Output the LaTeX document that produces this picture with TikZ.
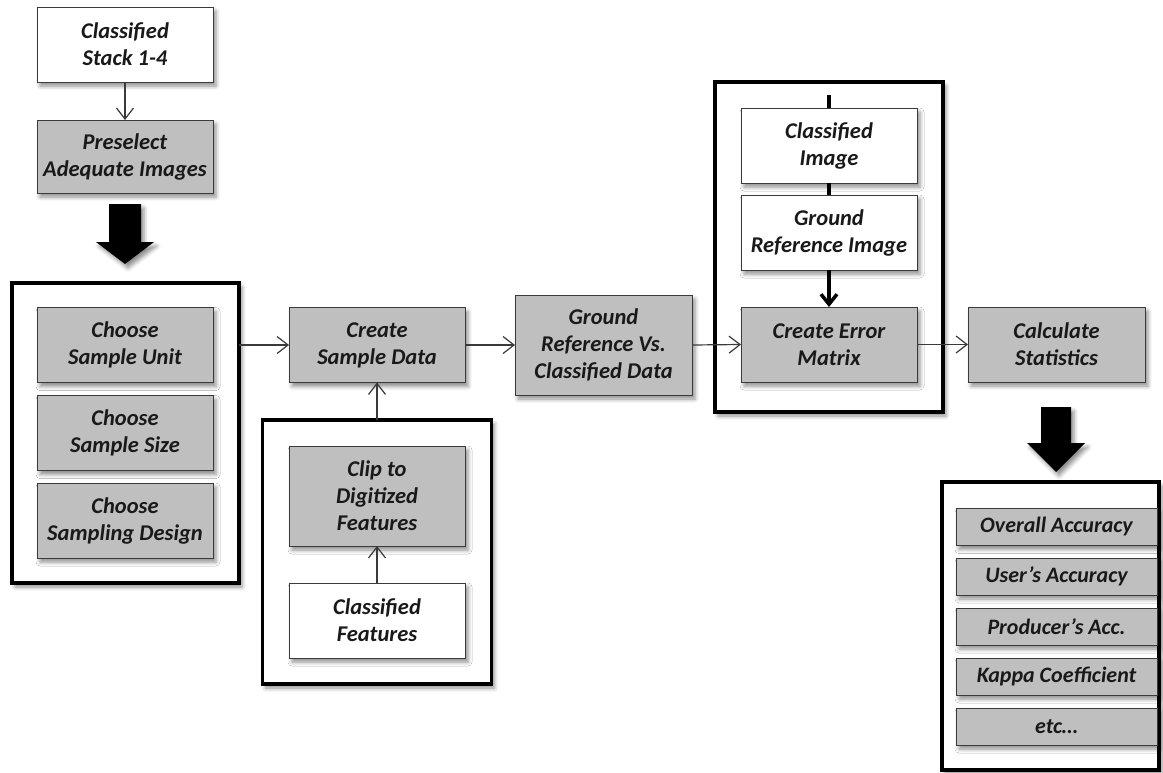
\documentclass[tikz,border=0pt]{standalone}
\usepackage{fontspec}
\setmainfont{Carlito}
\usetikzlibrary{arrows.meta,shadows.blur}
\definecolor{boxgrey}{HTML}{BFBFBF}
\definecolor{edgegrey}{HTML}{3A3A3A}
\tikzset{
  shade/.style={blur shadow={shadow xshift=3pt,shadow yshift=-4pt,shadow blur radius=4pt,shadow opacity=45}},
  stepbox/.style={draw=edgegrey,line width=0.9pt,fill=boxgrey,minimum width=176pt,minimum height=75pt,
    inner sep=0pt,outer sep=0pt,align=center,text=black!90,
    font=\bfseries\itshape\fontsize{22.5}{27}\selectfont,shade},
  whitebox/.style={stepbox,fill=white},
  statbox/.style={stepbox,minimum width=201pt,minimum height=37pt,font=\bfseries\itshape\fontsize{22}{26}\selectfont},
  groupbox/.style={draw=black,line width=3.6pt,fill=white,inner sep=0pt,outer sep=0pt,shade},
  thin/.style={draw=edgegrey,line width=1.2pt,-{Straight Barb[length=11pt,width=17pt]}},
  heavy/.style={draw=black,line width=3.5pt},
  blockarrow/.style={fill=black,shade}
}
\begin{document}
\begin{tikzpicture}[x=1pt,y=-1pt]
\useasboundingbox (0,0) rectangle (1163,772);

% group frames
\node[groupbox,minimum width=227pt,minimum height=300pt] (g1) at (125.5,433) {};
\node[groupbox,minimum width=229pt,minimum height=264pt] (g2) at (377,552) {};
\node[groupbox,minimum width=228pt,minimum height=330pt] (g3) at (829,247) {};
\node[groupbox,minimum width=217pt,minimum height=288pt] (g4) at (1050.5,626) {};

% column 1
\node[whitebox] (cls) at (125,44.5) {Classified\\Stack 1-4};
\node[stepbox,minimum height=73pt] (pre) at (125,156.5) {Preselect\\Adequate Images};
\node[stepbox] (unit) at (125,345) {Choose\\Sample Unit};
\node[stepbox] (size) at (125,433) {Choose\\Sample Size};
\node[stepbox] (design) at (125,520.5) {Choose\\Sampling Design};

% column 2
\node[stepbox] (csd) at (377,345) {Create\\Sample Data};
\node[stepbox,minimum height=100pt] (clip) at (377,496) {Clip to\\Digitized\\Features};
\node[whitebox] (cfeat) at (377,620.5) {Classified\\Features};

% column 3
\node[stepbox,minimum width=177pt,minimum height=100pt] (grd) at (603.5,345) {Ground\\Reference Vs.\\Classified Data};

% column 4
\node[whitebox] (cimg) at (829,145.5) {Classified\\Image};
\node[whitebox] (gimg) at (829,232.5) {Ground\\Reference Image};
\node[stepbox] (cem) at (829,344.5) {Create Error\\Matrix};

% column 5
\node[stepbox,minimum width=177pt] (calc) at (1056.5,344.5) {Calculate\\Statistics};
\node[statbox] (oa) at (1056.5,527) {Overall Accuracy};
\node[statbox] (ua) at (1056.5,576.5) {User’s Accuracy};
\node[statbox] (pa) at (1056.5,626.5) {Producer’s Acc.};
\node[statbox] (kc) at (1056.5,676.5) {Kappa Coefficient};
\node[statbox] (etc) at (1056.5,726.5) {etc…};

% block arrows
\fill[blockarrow] (109,204) -- (141,204) -- (141,242) -- (154,242) -- (125,264)
  -- (96,242) -- (109,242) -- cycle;
\fill[blockarrow] (1041,407) -- (1071,407) -- (1071,443) -- (1085,443) -- (1056,472)
  -- (1027,443) -- (1041,443) -- cycle;

% connectors
\draw[thin] (cls.south) -- (pre.north);
\draw[thin] (g1.east |- csd.west) -- (csd.west);
\draw[thin] (g2.north) -- (csd.south);
\draw[thin] (cfeat.north) -- (clip.south);
\draw[thin] (csd.east) -- (grd.west);
\draw[thin] (grd.east) -- (cem.west);
\draw[thin] (cem.east) -- (calc.west);

\coordinate (g3in) at (829,95);
\draw[heavy] (g3in) -- (cimg.north);
\draw[heavy] (cimg.south) -- (gimg.north);
\draw[heavy,-{Straight Barb[length=10pt,width=16pt]}] (gimg.south) -- (cem.north);
\end{tikzpicture}
\end{document}
